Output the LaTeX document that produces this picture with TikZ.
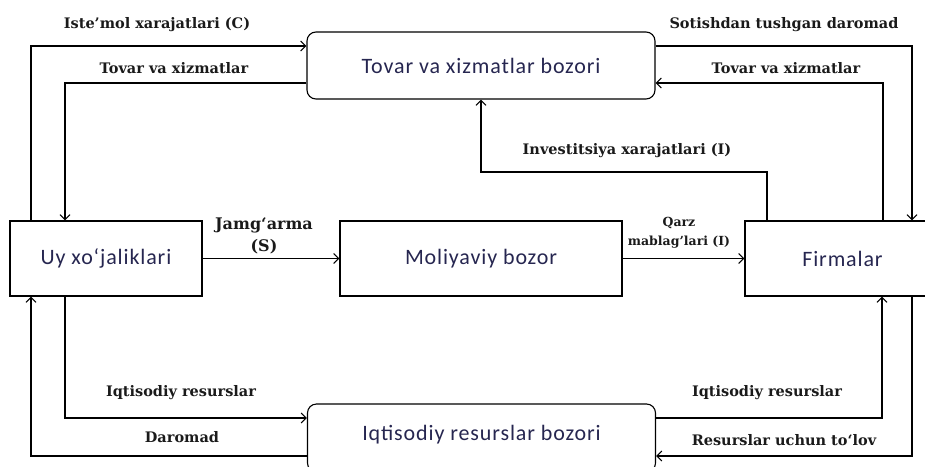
\documentclass[tikz,border=0pt]{standalone}
\usepackage{fontspec}
\usepackage{tikz}
\usetikzlibrary{arrows.meta, positioning, calc}
\setmainfont{DejaVu Serif}
\newfontfamily\boxfont[LetterSpace=4]{Carlito}
\definecolor{boxtext}{HTML}{262650}
\definecolor{lbltext}{HTML}{1A1A1A}

\begin{document}
\begin{tikzpicture}[
        x=1pt, y=-1pt,
        boxtxt/.style={font=\boxfont\fontsize{22}{24}\selectfont, text=boxtext},
        box/.style={draw, boxtxt, line width=1.1pt, minimum height=75pt, inner sep=0pt},
        market/.style={box, rounded corners=9pt, minimum width=348pt, minimum height=67pt},
        flow/.style={-{Straight Barb[length=5pt,width=10pt]}, line width=1.1pt},
        lbl/.style={font=\bfseries\fontsize{14.5}{16}\selectfont, text=lbltext, inner sep=0pt},
        small/.style={lbl, font=\bfseries\fontsize{12.5}{19}\selectfont, align=center}
    ]
        \useasboundingbox (0,0) rectangle (925,466);
        \clip (0,0) rectangle (925,466);

        % Nodes
        \node[market] (goods) at (481,65.5) {Tovar va xizmatlar bozori};
        \node[box, minimum width=192pt] (house) at (106,258.5) {Uy xo‘jaliklari};
        \node[box, minimum width=282pt] (finance) at (481,258.5) {Moliyaviy bozor};
        \node[box, minimum width=195pt] (firms) at (842.5,258.5) {Firmalar};
        \node[market, minimum height=68pt] (resource) at (481.5,438) {};
        \node[boxtxt] (resourcetxt) at (481.5,435) {Iqtisodiy resurslar bozori};

        % Corners of the outer loops
        \coordinate (topL) at (31,46);
        \coordinate (topl) at (65,83);
        \coordinate (topR) at (912,46);
        \coordinate (topr) at (883,83);
        \coordinate (inv) at (767,172);
        \coordinate (botl) at (65,418);
        \coordinate (botL) at (31,456);
        \coordinate (botr) at (882,418);
        \coordinate (botR) at (912,456);

        % Lines
        \draw[flow] (house.north -| topL) |- (goods.west |- topL);
        \draw[flow] (goods.west |- topl) -| (house.north -| topl);
        \draw[flow] (goods.east |- topR) -| (firms.north -| topR);
        \draw[flow] (firms.north -| topr) |- (goods.east |- topr);
        \draw[flow] (firms.north -| inv) -- (inv) -| (goods.south);
        \draw[flow] (house) -- (finance);
        \draw[flow] (finance) -- (firms);
        \draw[flow] (house.south -| botl) |- (resource.west |- botl);
        \draw[flow] (resource.west |- botL) -| (house.south -| botL);
        \draw[flow] (resource.east |- botr) -| (firms.south -| botr);
        \draw[flow] (firms.south -| botR) |- (resource.east |- botR);

        % Labels
        \node[lbl] (consume) at (157,25) {Iste’mol xarajatlari (C)};
        \node[lbl] (goodsL) at (174,68) {Tovar va xizmatlar};
        \node[lbl] (sales) at (784,25) {Sotishdan tushgan daromad};
        \node[lbl] (goodsR) at (786,68) {Tovar va xizmatlar};
        \node[lbl] (invest) at (627,151) {Investitsiya xarajatlari (I)};
        \node[lbl, align=center, font=\bfseries\fontsize{16}{22}\selectfont] (saving) at (264,236) {Jamg‘arma\\(S)};
        \node[small] (loan) at (679,233) {Qarz\\mablag’lari (I)};
        \node[lbl] (resL) at (181,393) {Iqtisodiy resurslar};
        \node[lbl] (income) at (182,437) {Daromad};
        \node[lbl] (resR) at (767,393) {Iqtisodiy resurslar};
        \node[lbl] (payment) at (784,440) {Resurslar uchun to‘lov};
    \end{tikzpicture}
\end{document}
